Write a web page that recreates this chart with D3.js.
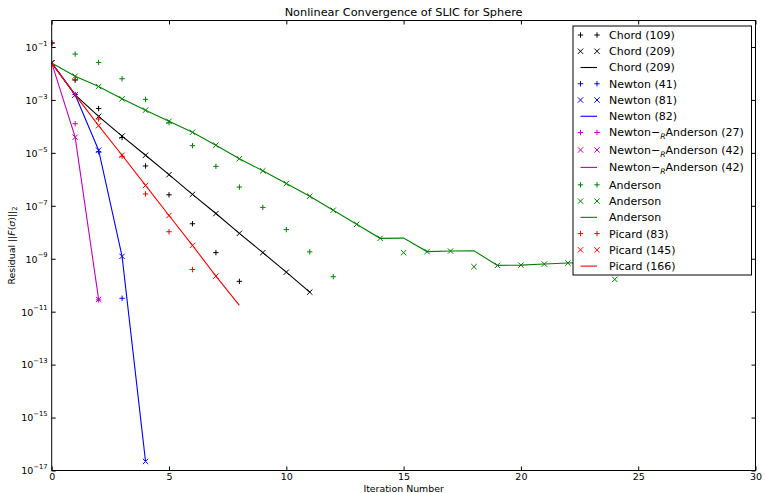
<!DOCTYPE html>
<html>
<head>
<meta charset="utf-8">
<script src="https://cdn.jsdelivr.net/npm/d3@7"></script>
<style>
  html, body { margin: 0; padding: 0; background: #fff; }
  svg { display: block; font-family: "DejaVu Sans", sans-serif; }
</style>
</head>
<body>
<svg id="chart" width="765" height="493"></svg>
<script>
// Residual history per solver; array index = iteration number.
const xTicks = [0, 5, 10, 15, 20, 25, 30];
const yTickExponents = [-1, -3, -5, -7, -9, -11, -13, -15, -17];

const chordPlus  = [1.41e-1, 5.6e-3, 4.7e-4, 3.8e-5, 3.2e-6, 2.6e-7, 2.1e-8, 1.7e-9, 1.4e-10];
const chordCross = [2.5e-2, 1.55e-3, 2.4e-4, 4.3e-5, 8.1e-6, 1.5e-6, 2.7e-7, 5.1e-8, 9.1e-9, 1.7e-9, 3.1e-10, 5.5e-11];
const chordLine  = [2.5e-2, 1.55e-3, 2.4e-4, 4.3e-5, 8.1e-6, 1.5e-6, 2.7e-7, 5.1e-8, 9.1e-9, 1.7e-9, 3.1e-10, 5.5e-11];

const newtonPlus  = [1.41e-1, 1.6e-3, 1.1e-5, 3.2e-11];
const newtonCross = [2.5e-2, 1.55e-3, 1.26e-5, 1.23e-9, 2.2e-17];
const newtonLine  = [2.5e-2, 1.55e-3, 1.26e-5, 1.23e-9, 2.2e-17];

const nraPlus  = [1.41e-1, 1.26e-4, 2.8e-11];
const nraCross = [2.5e-2, 3.9e-5, 2.9e-11];
const nraLine  = [2.5e-2, 3.9e-5, 2.9e-11];

const andersonPlus  = [1.41e-1, 5.4e-2, 2.6e-2, 6.3e-3, 1.05e-3, 1.38e-4, 1.86e-5, 3.1e-6, 5.1e-7, 8.7e-8, 1.26e-8, 1.82e-9, 2.1e-10];
const andersonCross = [2.5e-2, 7.9e-3, 3.2e-3, 1.1e-3, 4.1e-4, 1.55e-4, 6.0e-5, 1.95e-5, 6.0e-6, 2.1e-6, 6.9e-7, 2.3e-7, 6.8e-8, 2.0e-8, 5.9e-9, 1.7e-9, 1.86e-9, 1.95e-9, 5.0e-10, 5.6e-10, 5.75e-10, 6.3e-10, 6.9e-10, 7.2e-10, 1.66e-10];
const andersonLine  = [2.5e-2, 7.9e-3, 3.2e-3, 1.1e-3, 4.1e-4, 1.55e-4, 6.0e-5, 1.95e-5, 6.0e-6, 2.1e-6, 6.9e-7, 2.3e-7, 6.8e-8, 2.0e-8, 5.9e-9, 6.0e-9, 1.86e-9, 1.95e-9, 2.0e-9, 5.6e-10, 5.75e-10, 6.3e-10, 6.9e-10, 7.2e-10, 7.6e-10];

const picardPlus  = [1.41e-1, 5.9e-3, 1.9e-4, 7.4e-6, 2.8e-7, 1.05e-8, 3.9e-10];
const picardCross = [2.5e-2, 1.55e-3, 1.07e-4, 8.1e-6, 5.9e-7, 4.3e-8, 3.2e-9, 2.2e-10];
const picardLine  = [2.5e-2, 1.55e-3, 1.07e-4, 8.1e-6, 5.9e-7, 4.3e-8, 3.2e-9, 2.2e-10, 1.74e-11];

const COLORS = { k: "#000000", b: "#0000ff", m: "#bf00bf", g: "#008000", r: "#ff0000" };

// Plot order == legend order.
const series = [
  { label: ["Chord (109)"], color: COLORS.k, kind: "plus",  data: chordPlus },
  { label: ["Chord (209)"], color: COLORS.k, kind: "cross", data: chordCross },
  { label: ["Chord (209)"], color: COLORS.k, kind: "line",  data: chordLine },
  { label: ["Newton (41)"], color: COLORS.b, kind: "plus",  data: newtonPlus },
  { label: ["Newton (81)"], color: COLORS.b, kind: "cross", data: newtonCross },
  { label: ["Newton (82)"], color: COLORS.b, kind: "line",  data: newtonLine },
  { label: ["Newton", "R", "Anderson (27)"], color: COLORS.m, kind: "plus",  data: nraPlus },
  { label: ["Newton", "R", "Anderson (42)"], color: COLORS.m, kind: "cross", data: nraCross },
  { label: ["Newton", "R", "Anderson (42)"], color: COLORS.m, kind: "line",  data: nraLine },
  { label: ["Anderson"], color: COLORS.g, kind: "plus",  data: andersonPlus },
  { label: ["Anderson"], color: COLORS.g, kind: "cross", data: andersonCross },
  { label: ["Anderson"], color: COLORS.g, kind: "line",  data: andersonLine },
  { label: ["Picard (83)"],  color: COLORS.r, kind: "plus",  data: picardPlus },
  { label: ["Picard (145)"], color: COLORS.r, kind: "cross", data: picardCross },
  { label: ["Picard (166)"], color: COLORS.r, kind: "line",  data: picardLine }
];

const W = 765, H = 493;
const plot = { left: 51.7, right: 755.5, top: 20.5, bottom: 470.5 };
const svg = d3.select("#chart");

const x = d3.scaleLinear().domain([0, 30]).range([plot.left, plot.right]);
const y = d3.scaleLog().domain([1, 1e-17]).range([plot.top, plot.bottom]);

const M = 2.7; // marker half-size
const markerPath = {
  plus:  `M${-M},0H${M}M0,${-M}V${M}`,
  cross: `M${-M},${-M}L${M},${M}M${-M},${M}L${M},${-M}`
};

svg.append("defs").append("clipPath").attr("id", "plotClip")
  .append("rect")
  .attr("x", plot.left).attr("y", plot.top)
  .attr("width", plot.right - plot.left).attr("height", plot.bottom - plot.top);

// background
svg.append("rect").attr("width", W).attr("height", H).attr("fill", "#fff");

const dataLayer = svg.append("g").attr("clip-path", "url(#plotClip)");
const line = d3.line().x((d, i) => x(i)).y(d => y(d));

series.forEach(s => {
  if (s.kind === "line") {
    dataLayer.append("path")
      .attr("d", line(s.data))
      .attr("fill", "none")
      .attr("stroke", s.color)
      .attr("stroke-width", 1.1);
  } else {
    dataLayer.append("g").selectAll("path")
      .data(s.data)
      .join("path")
      .attr("transform", (d, i) => `translate(${x(i)},${y(d)})`)
      .attr("d", markerPath[s.kind])
      .attr("fill", "none")
      .attr("stroke", s.color)
      .attr("stroke-width", 1);
  }
});

// Axes: ticks point inward on all four sides
const tickLen = 4;
const fontTick = 9.5;

const xAxisB = d3.axisBottom(x).tickValues(xTicks).tickSize(-tickLen).tickPadding(3).tickFormat(d3.format("d"));
const xAxisT = d3.axisTop(x).tickValues(xTicks).tickSize(-tickLen).tickFormat("");
const yVals = yTickExponents.map(e => Math.pow(10, e));
const yAxisL = d3.axisLeft(y).tickValues(yVals).tickSize(-tickLen).tickPadding(4).tickFormat("");
const yAxisR = d3.axisRight(y).tickValues(yVals).tickSize(-tickLen).tickFormat("");

function styleAxis(g) {
  g.select(".domain").remove();
  g.selectAll(".tick line").attr("stroke", "#000").attr("stroke-width", 1);
  g.selectAll("text").attr("fill", "#000").attr("font-size", fontTick).attr("font-family", "DejaVu Sans");
}

svg.append("g").attr("transform", `translate(0,${plot.bottom})`).call(xAxisB).call(styleAxis);
svg.append("g").attr("transform", `translate(0,${plot.top})`).call(xAxisT).call(styleAxis);
const gyl = svg.append("g").attr("transform", `translate(${plot.left},0)`).call(yAxisL).call(styleAxis);
svg.append("g").attr("transform", `translate(${plot.right},0)`).call(yAxisR).call(styleAxis);

// log tick labels as 10^e
gyl.selectAll(".tick").each(function(d) {
  const e = Math.round(Math.log10(d));
  const t = d3.select(this).select("text");
  t.text(null)
    .attr("x", -4).attr("dy", "0.35em")
    .attr("text-anchor", "end");
  t.append("tspan").text("10");
  t.append("tspan").attr("font-size", 6.8).attr("dy", "-0.75em").text("\u2212" + Math.abs(e));
});

// frame
svg.append("rect")
  .attr("x", plot.left).attr("y", plot.top)
  .attr("width", plot.right - plot.left).attr("height", plot.bottom - plot.top)
  .attr("fill", "none").attr("stroke", "#000").attr("stroke-width", 1);

// title and axis labels
svg.append("text")
  .attr("x", (plot.left + plot.right) / 2).attr("y", 16)
  .attr("text-anchor", "middle").attr("font-size", 11.3)
  .text("Nonlinear Convergence of SLIC for Sphere");

svg.append("text")
  .attr("x", (plot.left + plot.right) / 2).attr("y", 491.5)
  .attr("text-anchor", "middle").attr("font-size", 9.4)
  .text("Iteration Number");

const yl = svg.append("text")
  .attr("transform", `translate(15,${(plot.top + plot.bottom) / 2}) rotate(-90)`)
  .attr("text-anchor", "middle").attr("font-size", 9.4);
yl.append("tspan").text("Residual ||");
yl.append("tspan").attr("font-style", "italic").text("F");
yl.append("tspan").text("(");
yl.append("tspan").attr("font-style", "italic").text("\u03c3");
yl.append("tspan").text(")||");
yl.append("tspan").attr("font-size", 6.8).attr("dy", "0.3em").text("2");

// legend
const leg = { x: 573, y: 26, w: 178.5, h: 249 };
const lg = svg.append("g");
lg.append("rect")
  .attr("x", leg.x).attr("y", leg.y).attr("width", leg.w).attr("height", leg.h)
  .attr("fill", "#fff").attr("stroke", "#000").attr("stroke-width", 1);

const rowStep = 16.25, subExtra = 1.2;
let extra = 0;
series.forEach((s, i) => {
  const ry = 35 + rowStep * i + extra;
  if (s.label.length > 1) extra += subExtra;
  const x0 = 580.5, x1 = 597;
  if (s.kind === "line") {
    lg.append("line").attr("x1", x0).attr("x2", x1).attr("y1", ry).attr("y2", ry)
      .attr("stroke", s.color).attr("stroke-width", 1.1);
  } else {
    [x0, x1].forEach(px => {
      lg.append("path").attr("transform", `translate(${px},${ry})`)
        .attr("d", markerPath[s.kind]).attr("fill", "none")
        .attr("stroke", s.color).attr("stroke-width", 1);
    });
  }
  const t = lg.append("text").attr("x", 609).attr("y", ry).attr("dy", "0.36em").attr("font-size", 11);
  if (s.label.length === 1) {
    t.text(s.label[0]);
  } else {
    t.append("tspan").text(s.label[0]);
    t.append("tspan").text("\u2212");
    t.append("tspan").attr("font-style", "italic").attr("font-size", 7.7).attr("dy", 3).text(s.label[1]);
    t.append("tspan").attr("dy", -3).text(s.label[2]);
  }
});
</script>
</body>
</html>
